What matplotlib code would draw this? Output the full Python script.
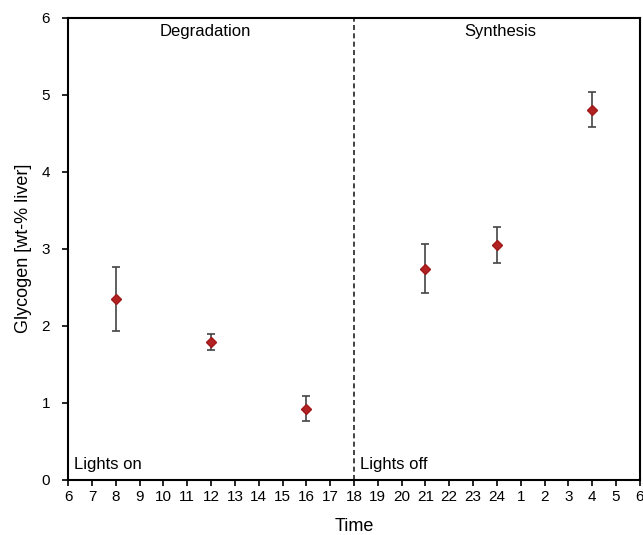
import matplotlib

matplotlib.use("Agg")
import matplotlib.pyplot as plt

plt.rcParams["font.family"] = ["Liberation Sans", "DejaVu Sans"]

# clock hours shown on the x axis, 6 in the morning to 6 next morning
hour_labels = [str(h) for h in list(range(6, 25)) + list(range(1, 7))]

# measurements: clock hour, mean glycogen, error bar low/high
hours = [8, 12, 16, 21, 24, 4]
glycogen = [2.35, 1.79, 0.92, 2.74, 3.05, 4.80]
err_low = [1.93, 1.68, 0.77, 2.42, 2.82, 4.58]
err_high = [2.76, 1.90, 1.09, 3.06, 3.28, 5.03]

phase_labels = ["Degradation", "Synthesis"]
light_labels = ["Lights on", "Lights off"]


def hour_to_pos(h):
    return h - 6 if h >= 6 else h + 18


xpos = [hour_to_pos(h) for h in hours]
yerr = [[g - lo for g, lo in zip(glycogen, err_low)],
        [hi - g for g, hi in zip(glycogen, err_high)]]

fig = plt.figure(figsize=(6.43, 5.35), dpi=100)
ax = fig.add_axes([0.106, 0.103, 0.889, 0.864])

ax.errorbar(xpos, glycogen, yerr=yerr, fmt="D", color="#b22222",
            markersize=5, ecolor="#444444", elinewidth=1.2, capsize=3,
            capthick=1.2, markeredgecolor="#a01818", zorder=3)

ax.axvline(12, color="#222222", linestyle=(0, (3, 2)), linewidth=1.2)

ax.set_xlim(0, 24)
ax.set_ylim(0, 6)
ax.set_xticks(range(len(hour_labels)))
ax.set_xticklabels(hour_labels, fontsize=11)
ax.set_yticks(range(7))
ax.tick_params(axis="y", labelsize=11, pad=9)
ax.tick_params(axis="x", pad=3)
ax.tick_params(direction="out", length=4, width=1.2)
for s in ax.spines.values():
    s.set_linewidth(1.5)

ax.set_xlabel("Time", fontsize=13, labelpad=10)
ax.set_ylabel("Glycogen [wt-% liver]", fontsize=13, labelpad=7)

ax.text(5.75, 5.82, phase_labels[0], ha="center", va="center", fontsize=12)
ax.text(18.15, 5.82, phase_labels[1], ha="center", va="center", fontsize=12)
ax.text(0.25, 0.2, light_labels[0], ha="left", va="center", fontsize=12)
ax.text(12.25, 0.2, light_labels[1], ha="left", va="center", fontsize=12)

fig.savefig("out.png", dpi=100)
